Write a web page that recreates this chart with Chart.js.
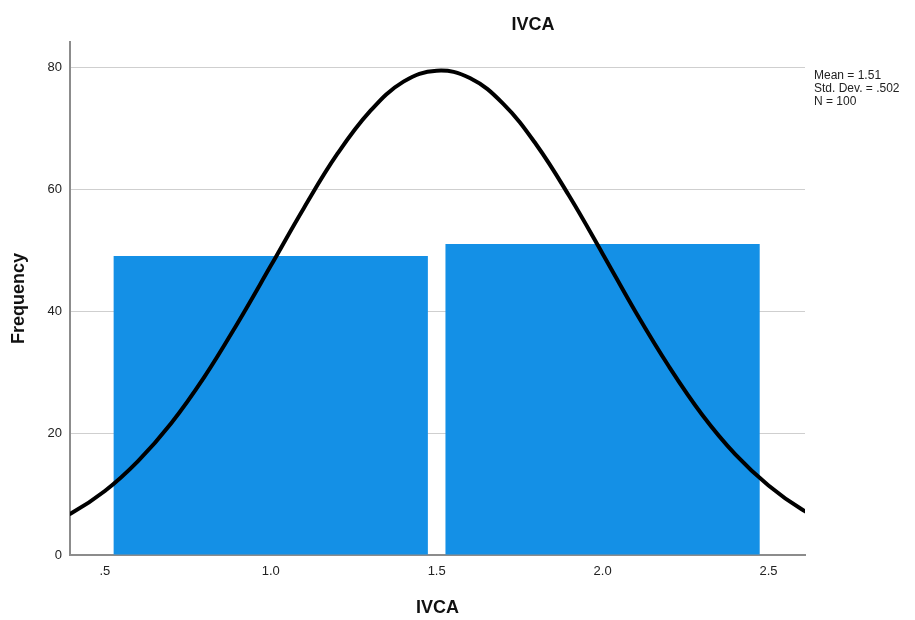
<!DOCTYPE html>
<html>
<head>
<meta charset="utf-8">
<title>IVCA</title>
<script src="https://cdn.jsdelivr.net/npm/chart.js@4/dist/chart.umd.min.js"></script>
<style>
  html, body { margin: 0; padding: 0; background: #fff; }
  #wrap { width: 915px; height: 620px; position: relative; }
</style>
</head>
<body>
<div id="wrap"><canvas id="histChart"></canvas></div>
<script>
// histogram bins (centre of each bin) and counts
const binCenters = [1, 2];
const binCounts = [49, 51];
const binWidth = 1;

// normal curve
const curveX = [0.3, 0.4, 0.5, 0.6, 0.7, 0.8, 0.9, 1.0, 1.1, 1.2, 1.3, 1.4, 1.5,
                1.6, 1.7, 1.8, 1.9, 2.0, 2.1, 2.2, 2.3, 2.4, 2.5, 2.6, 2.7];
const curveY = [4.4, 6.9, 10.5, 15.4, 21.6, 29.2, 38.0, 47.4, 56.9, 65.7, 72.8, 77.6, 79.4,
                78.2, 74.0, 67.3, 58.8, 49.4, 39.8, 30.9, 23.0, 16.5, 11.4, 7.5, 4.8];

// axis ticks
const xTicks = [0.5, 1.0, 1.5, 2.0, 2.5];
const xTickLabels = ['.5', '1.0', '1.5', '2.0', '2.5'];
const yTicks = [0, 20, 40, 60, 80];

const chartTitle = 'IVCA';
const xTitle = 'IVCA';
const yTitle = 'Frequency';
const statsLines = ['Mean = 1.51', 'Std. Dev. = .502', 'N = 100'];

const FONT = '"Liberation Sans", Arial, sans-serif';

// draws the title, axis titles and the stats box
const textPlugin = {
    id: 'spssText',
    afterDraw(chart) {
        const ctx = chart.ctx;
        const area = chart.chartArea;
        ctx.save();
        ctx.fillStyle = '#111';
        ctx.textAlign = 'center';
        ctx.textBaseline = 'middle';
        ctx.font = 'bold 18px ' + FONT;
        ctx.fillText(chartTitle, 533, 25);
        ctx.fillText(xTitle, (area.left + area.right) / 2, 608);

        ctx.save();
        ctx.translate(19, (area.top + area.bottom) / 2);
        ctx.rotate(-Math.PI / 2);
        ctx.fillText(yTitle, 0, 0);
        ctx.restore();

        ctx.font = '12px ' + FONT;
        ctx.textAlign = 'left';
        ctx.fillStyle = '#222';
        statsLines.forEach((line, i) => {
            ctx.fillText(line, area.right + 9, 76 + i * 13);
        });
        ctx.restore();
    }
};

const ctx = document.getElementById('histChart').getContext('2d');

new Chart(ctx, {
    type: 'bar',
    data: {
        datasets: [
            {
                type: 'bar',
                data: binCenters.map((x, i) => ({ x: x, y: binCounts[i] })),
                backgroundColor: 'rgb(20,144,230)',
                borderWidth: 0,
                // bar width is measured against the 0.5 tick spacing
                categoryPercentage: 1,
                barPercentage: 0.947 * binWidth / (xTicks[1] - xTicks[0]),
                order: 1
            },
            {
                type: 'line',
                data: curveX.map((x, i) => ({ x: x, y: curveY[i] })),
                borderColor: '#000',
                borderWidth: 4,
                pointRadius: 0,
                tension: 0.4,
                fill: false,
                clip: 0,
                order: 0
            }
        ]
    },
    options: {
        responsive: true,
        maintainAspectRatio: false,
        animation: false,
        layout: {
            padding: { left: 8, top: 42, right: 110, bottom: 0 }
        },
        plugins: {
            legend: { display: false },
            tooltip: { enabled: false },
            title: { display: false }
        },
        scales: {
            x: {
                type: 'linear',
                min: 0.395,
                max: 2.61,
                offset: false,
                afterBuildTicks: scale => { scale.ticks = xTicks.map(v => ({ value: v })); },
                afterFit: scale => { scale.height = 65; },
                grid: { display: false, drawTicks: false },
                border: { display: true, color: '#8c8c8c', width: 2 },
                ticks: {
                    padding: 9,
                    color: '#222',
                    font: { family: FONT, size: 13 },
                    maxRotation: 0,
                    callback: (value) => xTickLabels[xTicks.indexOf(value)]
                }
            },
            y: {
                min: 0,
                max: 84.1,
                afterBuildTicks: scale => { scale.ticks = yTicks.map(v => ({ value: v })); },
                afterFit: scale => { scale.width = 62; },
                grid: { color: '#cfcfcf', lineWidth: 1, drawTicks: false },
                border: { display: true, color: '#8c8c8c', width: 2 },
                ticks: {
                    padding: 8,
                    color: '#222',
                    font: { family: FONT, size: 13 }
                }
            }
        }
    },
    plugins: [textPlugin]
});
</script>
</body>
</html>
